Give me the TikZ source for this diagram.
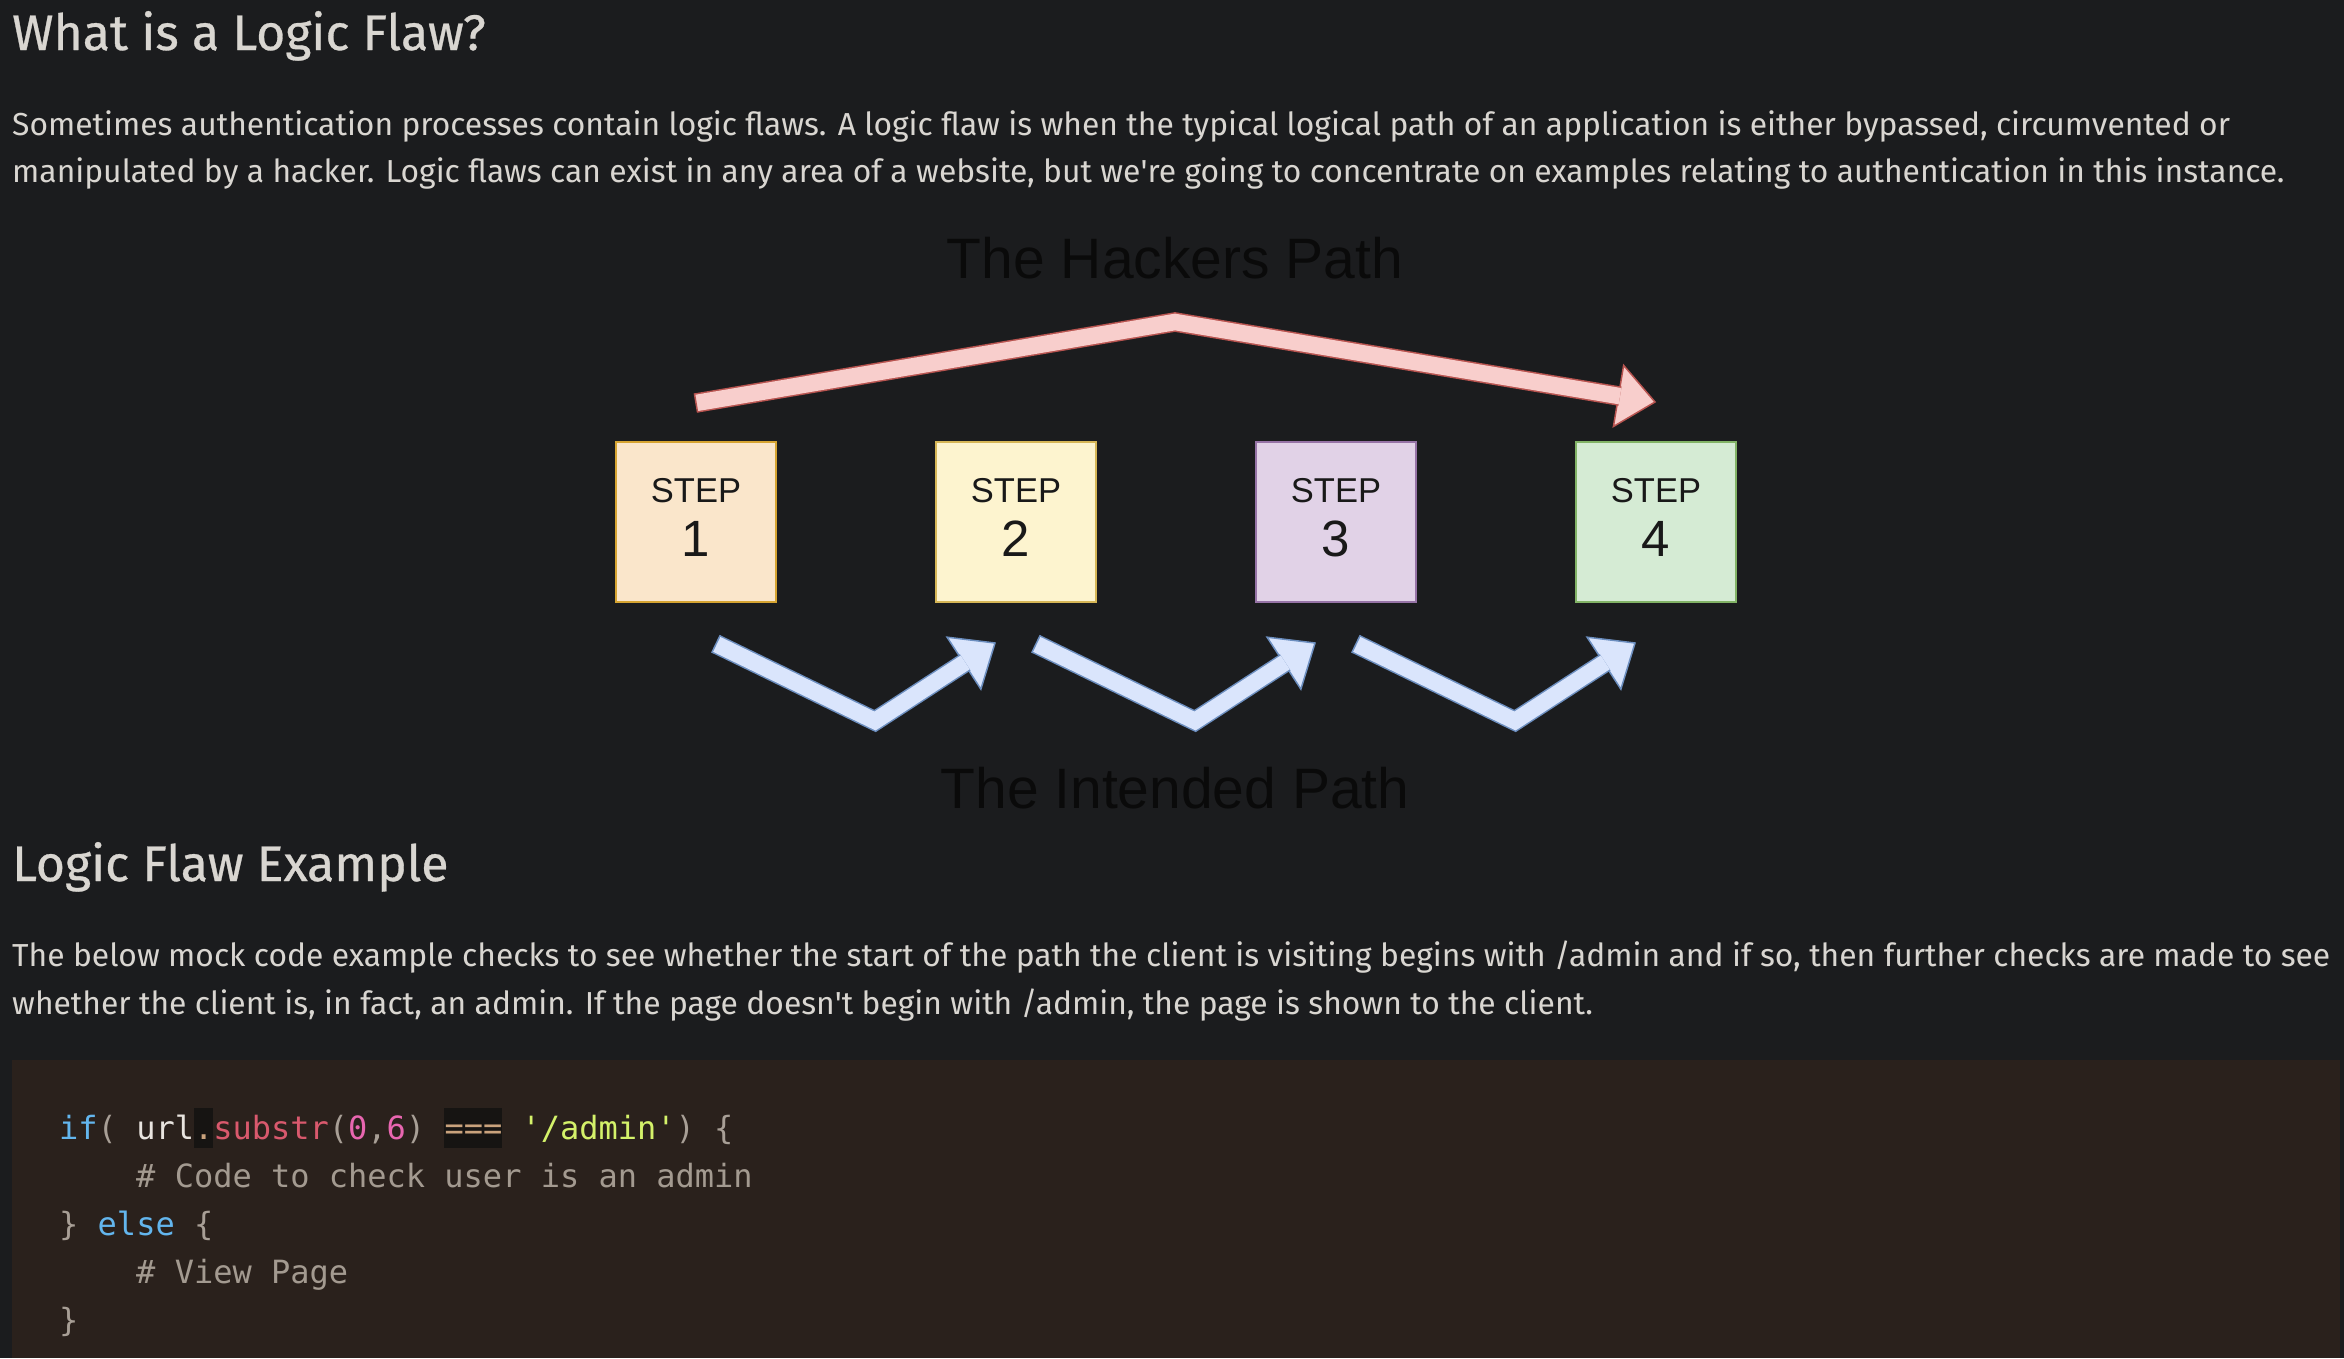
\documentclass[tikz,border=0pt]{standalone}
\usepackage{fontspec}
\setmainfont{Fira Sans}
\newfontfamily\headf[FakeBold=0.6]{Fira Sans}
\newfontfamily\arialf{Liberation Sans}
\newfontfamily\monof{DejaVu Sans Mono}
\usetikzlibrary{calc}
\definecolor{bg}{HTML}{1B1C1E}
\definecolor{txt}{HTML}{D9D6D1}
\definecolor{codebg}{HTML}{2A211C}
\definecolor{cgrey}{HTML}{A89F96}
\definecolor{cwhite}{HTML}{E8E4DF}
\definecolor{cblue}{HTML}{63B6EE}
\definecolor{cred}{HTML}{D9596D}
\definecolor{cpink}{HTML}{E866B0}
\definecolor{ctan}{HTML}{C9A27C}
\definecolor{cgreen}{HTML}{D4F26A}
\definecolor{ccomment}{HTML}{A39A90}
\definecolor{hl}{HTML}{161412}
\definecolor{dark}{HTML}{0A0A0A}
\definecolor{orF}{HTML}{FAE6CB}\definecolor{orS}{HTML}{D6A431}
\definecolor{yeF}{HTML}{FDF4CF}\definecolor{yeS}{HTML}{D6B656}
\definecolor{puF}{HTML}{E1D2E7}\definecolor{puS}{HTML}{9673A6}
\definecolor{grF}{HTML}{D5EBD4}\definecolor{grS}{HTML}{82B366}
\definecolor{pkF}{HTML}{F8CECC}\definecolor{pkS}{HTML}{B85450}
\definecolor{blF}{HTML}{DAE5FC}\definecolor{blS}{HTML}{6C8EBF}
\newcommand\flexarrow[5]{%
  \coordinate (fD) at ($(#3)!37pt!(#2)$);
  \coordinate (fE) at ($(#3)!35.5pt!(#2)$);
  \filldraw[fill=#4, draw=#5, line width=1.5pt, line join=miter]
    ($(fD)!31pt!90:(#3)$) -- (#3) -- ($(fD)!31pt!-90:(#3)$) -- cycle;
  \draw[draw=#5, line width=1.5pt, double=#4, double distance=16.5pt, line join=miter]
    (#1) -- (#2) -- (fE);
  \draw[draw=#5, line width=1.5pt] ($(#1)!9.75pt!90:(#2)$) -- ($(#1)!9.75pt!-90:(#2)$);
}
\newcommand\cw{19.26}
\tikzset{
  heading/.style={anchor=base west, inner sep=0pt, text=txt, font=\headf\fontsize{50}{60}\selectfont},
  para/.style={anchor=base west, inner sep=0pt, text=txt, font=\fontsize{31.8}{40}\selectfont},
  diag/.style={anchor=base, inner sep=0pt, text=dark, font=\arialf\fontsize{57}{68}\selectfont},
  stepbox/.style={draw, line width=2.5pt, minimum size=160pt, inner sep=0pt},
  steplbl/.style={anchor=base, inner sep=0pt, text=black!90, font=\arialf\fontsize{34.5}{40}\selectfont},
  stepnum/.style={anchor=base, inner sep=0pt, text=black!90, font=\arialf\fontsize{51}{60}\selectfont},
  code/.style={anchor=base west, inner sep=0pt, font=\monof\fontsize{32}{40}\selectfont},
}
\begin{document}
\begin{tikzpicture}[x=1pt,y=-1pt]
\fill[bg] (0,0) rectangle (2344,1358);
\useasboundingbox (0,0) rectangle (2344,1358);

% headings and paragraphs
\node[heading] (h1) at (12,50) {What is a Logic Flaw?};
\node[para] (p1a) at (12,135) {Sometimes authentication processes contain logic flaws. A logic flaw is when the typical logical path of an application is either bypassed, circumvented or};
\node[para] (p1b) at (12,182) {manipulated by a hacker. Logic flaws can exist in any area of a website, but we\textquotesingle re going to concentrate on examples relating to authentication in this instance.};

\node[heading] (h2) at (12,881) {Logic Flaw Example};
\node[para] (p2a) at (12,966) {The below mock code example checks to see whether the start of the path the client is visiting begins with /admin and if so, then further checks are made to see};
\node[para] (p2b) at (12,1014) {whether the client is, in fact, an admin. If the page doesn\textquotesingle t begin with /admin, the page is shown to the client.};

% diagram titles
\node[diag] (hack) at (1175,278) {The Hackers Path};
\node[diag] (intd) at (1175,808) {The Intended Path};

% step boxes
\foreach \i/\x/\f/\s in {1/696/orF/orS, 2/1016/yeF/yeS, 3/1336/puF/puS, 4/1656/grF/grS}{
  \node[stepbox, fill=\f, draw=\s] (s\i) at (\x,522) {};
  \node[steplbl] (sl\i) at (\x,502) {STEP};
  \node[stepnum] (sn\i) at (\x,556) {\i};
}

% hacker's path arrow
\coordinate (pA) at (696,403);
\coordinate (pB) at (1175,322);
\coordinate (pC) at (1655,402);
\flexarrow{pA}{pB}{pC}{pkF}{pkS}

% intended path arrows
\foreach \i/\dx in {1/0, 2/320, 3/640}{
  \coordinate (bA\i) at (716+\dx,644);
  \coordinate (bB\i) at (875+\dx,721);
  \coordinate (bC\i) at (995+\dx,643);
}
\flexarrow{bA1}{bB1}{bC1}{blF}{blS}
\flexarrow{bA2}{bB2}{bC2}{blF}{blS}
\flexarrow{bA3}{bB3}{bC3}{blF}{blS}

% code block
\fill[codebg] (12,1060) rectangle (2340,1358);
\fill[hl] (59+7*\cw,1108) rectangle (59+8*\cw,1148);
\fill[hl] (59+20*\cw,1108) rectangle (59+23*\cw,1148);
\node[code] (c1) at (59,1139) {\textcolor{cblue}{if}\textcolor{cgrey}{(} \textcolor{cwhite}{url}\textcolor{ctan}{.}\textcolor{cred}{substr}\textcolor{cgrey}{(}\textcolor{cpink}{0}\textcolor{cgrey}{,}\textcolor{cpink}{6}\textcolor{cgrey}{)} \textcolor{ctan}{===} \textcolor{cgreen}{\textquotesingle/admin\textquotesingle}\textcolor{cgrey}{) \{}};
\node[code, text=ccomment] (c2) at (59+4*\cw,1187) {\# Code to check user is an admin};
\node[code] (c3) at (59,1235) {\textcolor{cgrey}{\}} \textcolor{cblue}{else} \textcolor{cgrey}{\{}};
\node[code, text=ccomment] (c4) at (59+4*\cw,1283) {\# View Page};
\node[code, text=cgrey] (c5) at (59,1331) {\}};
\end{tikzpicture}
\end{document}
